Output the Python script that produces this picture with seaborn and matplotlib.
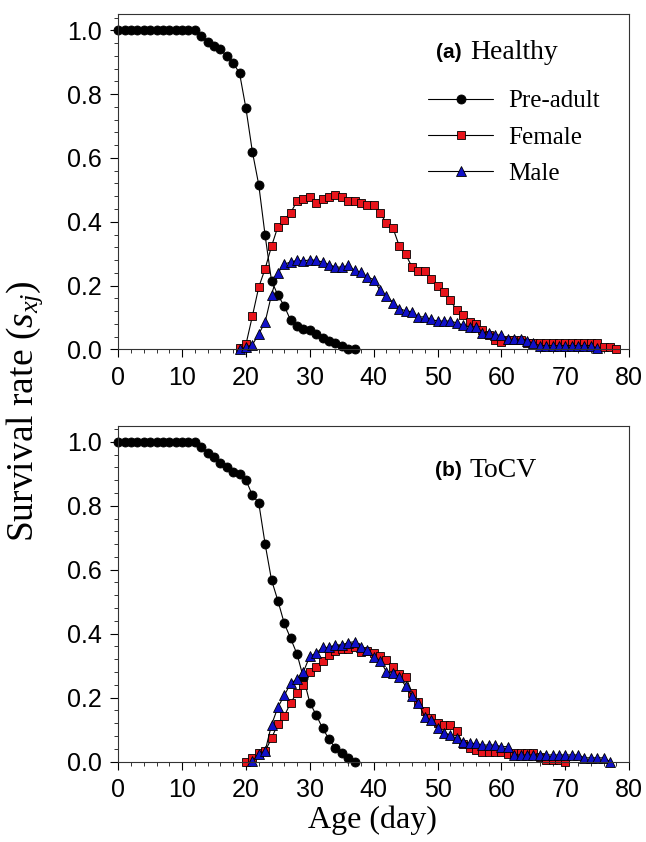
import numpy as np
import seaborn as sns
from matplotlib import pyplot as plt
from matplotlib.ticker import MultipleLocator

# ---- data (age in days, survival rate) ----
h_pre_age = np.arange(0, 38)
h_pre = [1.0] * 13 + [0.983, 0.964, 0.952, 0.940, 0.919, 0.898, 0.865, 0.755, 0.620,
                      0.516, 0.357, 0.215, 0.170, 0.136, 0.091, 0.074, 0.063, 0.060,
                      0.049, 0.037, 0.027, 0.021, 0.012, 0.002, 0.002]

h_fem_age = np.arange(19, 79)
h_fem = [0.003, 0.016, 0.104, 0.195, 0.253, 0.323, 0.385, 0.407, 0.428, 0.465,
         0.471, 0.478, 0.459, 0.471, 0.477, 0.485, 0.479, 0.466, 0.466, 0.459,
         0.453, 0.453, 0.428, 0.395, 0.381, 0.324, 0.298, 0.258, 0.246, 0.246,
         0.222, 0.200, 0.180, 0.154, 0.123, 0.107, 0.086, 0.081, 0.060, 0.045,
         0.030, 0.024, 0.029, 0.029, 0.029] + [0.019] * 12 + [0.008, 0.008, 0.0]

h_male_age = np.arange(19, 76)
h_male = [0.0, 0.007, 0.015, 0.048, 0.086, 0.171, 0.240, 0.267, 0.274, 0.279,
          0.277, 0.281, 0.279, 0.274, 0.266, 0.258, 0.258, 0.263, 0.248, 0.242,
          0.227, 0.219, 0.185, 0.168, 0.147, 0.128, 0.121, 0.118, 0.102, 0.102,
          0.094, 0.089, 0.089, 0.089, 0.083, 0.076, 0.071, 0.071, 0.052, 0.052,
          0.045, 0.045, 0.032, 0.032, 0.032, 0.027, 0.019] + [0.012] * 9 + [0.004]

t_pre_age = np.arange(0, 38)
t_pre = [1.0] * 13 + [0.984, 0.966, 0.953, 0.935, 0.920, 0.904, 0.898, 0.880, 0.833,
                      0.809, 0.680, 0.568, 0.503, 0.432, 0.385, 0.336, 0.262, 0.184,
                      0.146, 0.104, 0.071, 0.042, 0.026, 0.010, 0.0]

t_fem_age = np.arange(20, 71)
t_fem = [0.0, 0.010, 0.026, 0.033, 0.073, 0.118, 0.143, 0.184, 0.216, 0.240,
         0.281, 0.297, 0.315, 0.334, 0.347, 0.351, 0.351, 0.357, 0.344, 0.347,
         0.339, 0.330, 0.318, 0.297, 0.274, 0.266, 0.216, 0.188, 0.159, 0.135,
         0.122, 0.115, 0.115, 0.096, 0.054, 0.044, 0.036, 0.031, 0.031, 0.031,
         0.031, 0.023, 0.028, 0.028, 0.028, 0.028, 0.016, 0.006, 0.006, 0.006,
         0.0]

t_male_age = np.arange(21, 78)
t_male = [0.002, 0.024, 0.033, 0.115, 0.170, 0.207, 0.245, 0.258, 0.281, 0.330,
          0.339, 0.357, 0.357, 0.365, 0.365, 0.372, 0.375, 0.357, 0.349, 0.328,
          0.316, 0.281, 0.276, 0.266, 0.236, 0.205, 0.184, 0.139, 0.130, 0.104,
          0.091, 0.083, 0.073, 0.063, 0.057, 0.057, 0.052, 0.052, 0.052, 0.047,
          0.047] + [0.021] * 11 + [0.012] * 4 + [0.0]

labels = ['Pre-adult', 'Female', 'Male']
markers = ['o', 's', '^']
facecols = ['black', '#e8141b', '#1010c8']
msizes = [6.5, 6.2, 6.8]

sns.set_style('ticks')
plt.rcParams['font.family'] = ['Liberation Sans', 'DejaVu Sans']
plt.rcParams['mathtext.fontset'] = 'custom'
plt.rcParams['mathtext.rm'] = 'Liberation Serif'
plt.rcParams['mathtext.it'] = 'Liberation Serif:italic'
plt.rcParams['text.color'] = 'black'
plt.rcParams['xtick.color'] = 'black'
plt.rcParams['ytick.color'] = 'black'
serif = ['Liberation Serif', 'DejaVu Serif']

fig = plt.figure(figsize=(6.46, 8.42), dpi=100)
ax1 = fig.add_axes([0.183, 0.585, 0.791, 0.398])
ax2 = fig.add_axes([0.183, 0.0954, 0.791, 0.399])

panels = [(ax1, [(h_pre_age, h_pre), (h_fem_age, h_fem), (h_male_age, h_male)], '(a)', 'Healthy', 0.887),
          (ax2, [(t_pre_age, t_pre), (t_fem_age, t_fem), (t_male_age, t_male)], '(b)', 'ToCV', 0.868)]

for ax, series, tag, name, ty in panels:
    for i, (xs, ys) in enumerate(series):
        sns.lineplot(x=xs, y=ys, ax=ax, color='black', linewidth=0.8,
                     marker=markers[i], markersize=msizes[i],
                     markerfacecolor=facecols[i], markeredgecolor='black',
                     markeredgewidth=0.6, label=labels[i], clip_on=False)
    ax.set_xlim(0, 80)
    ax.set_ylim(0, 1.05)
    ax.xaxis.set_major_locator(MultipleLocator(10))
    ax.xaxis.set_minor_locator(MultipleLocator(2))
    ax.yaxis.set_major_locator(MultipleLocator(0.2))
    ax.yaxis.set_minor_locator(MultipleLocator(0.04))
    ax.set_yticks(np.arange(0, 1.01, 0.2))
    ax.set_yticklabels(['%.1f' % v for v in np.arange(0, 1.01, 0.2)])
    ax.tick_params(which='major', direction='out', length=6, width=0.8,
                   labelsize=18, colors='black')
    ax.tick_params(axis='y', which='major', pad=6)
    ax.tick_params(axis='x', which='major', pad=6)
    ax.tick_params(which='minor', direction='out', length=3, width=0.7, colors='#333333')
    for s in ax.spines.values():
        s.set_linewidth(0.8)
        s.set_color('#333333')
    ax.set_xlabel('')
    ax.set_ylabel('')
    ax.text(0.673, ty, tag, transform=ax.transAxes, ha='right', va='center',
            fontsize=15, fontweight='bold', color='black')
    ax.text(0.688, ty, name, transform=ax.transAxes, ha='left', va='center',
            fontsize=20, family=serif, color='black')
    if ax is ax1:
        ax.legend(loc='upper left', bbox_to_anchor=(0.582, 0.812), frameon=False,
                  prop={'family': serif, 'size': 18}, handlelength=2.6,
                  handletextpad=0.6, labelspacing=0.55, borderpad=0,
                  labelcolor='black')
    else:
        ax.get_legend().remove()

fig.text(0.038, 0.512, r'Survival rate ($s_{xj}$)', rotation=90, ha='center',
         va='center', fontsize=27, family=serif, color='black')
fig.text(0.577, 0.026, 'Age (day)', ha='center', va='center', fontsize=23,
         family=serif, color='black')

fig.savefig('out.png', dpi=100)
